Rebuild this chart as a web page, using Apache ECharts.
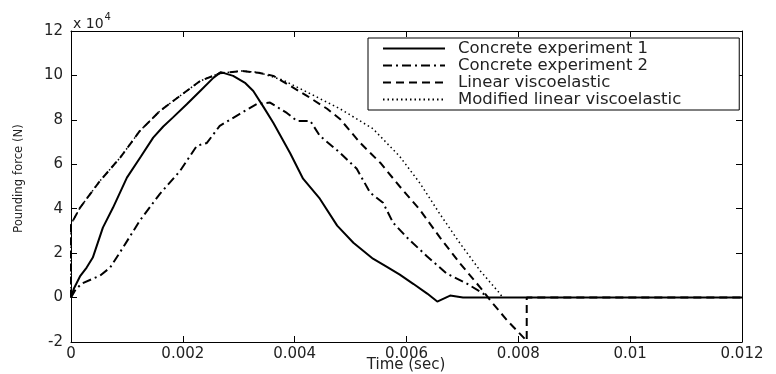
<!DOCTYPE html>
<html>
<head>
<meta charset="utf-8">
<script src="https://cdn.jsdelivr.net/npm/echarts@6/dist/echarts.min.js"></script>
<style>
  html, body { margin: 0; padding: 0; background: #fff; }
  #chart { width: 776px; height: 374px; }
</style>
</head>
<body>
<div id="chart"></div>
<script>
// [time (s), force (N)]
const concrete1 = [
  [0, 0], [0.00005, 4000], [0.00016, 9500], [0.00028, 13500], [0.00039, 18000], [0.00057, 31500],
  [0.00075, 40400], [0.001, 54000], [0.00125, 63500], [0.00147, 72000], [0.00165, 77000],
  [0.00182, 81000], [0.00207, 87000], [0.00231, 93000], [0.00255, 99000], [0.00268, 101500],
  [0.0029, 99800], [0.00312, 96500], [0.00326, 93000], [0.00345, 85500], [0.00362, 78600],
  [0.00392, 65000], [0.00415, 53500], [0.00445, 44500], [0.00476, 32400], [0.00505, 24700],
  [0.0054, 17500], [0.00565, 13800], [0.00588, 10300], [0.00612, 6200], [0.00637, 1800],
  [0.00655, -1800], [0.00678, 900], [0.00701, 0], [0.012, 0]
];
const concrete2 = [
  [0, 0], [0.00008, 3500], [0.00019, 6300], [0.00052, 9900], [0.0007, 13500], [0.00093, 22500],
  [0.00123, 34600], [0.00159, 46700], [0.00195, 57000], [0.00225, 68300], [0.00243, 69600],
  [0.00266, 77300], [0.00302, 82700], [0.00333, 87200], [0.00356, 87800], [0.00386, 83100],
  [0.00404, 79500], [0.00428, 79500], [0.00445, 72800], [0.00481, 65200], [0.00511, 58000],
  [0.00535, 47200], [0.00558, 42700], [0.00576, 33700], [0.00601, 27000], [0.00637, 18500],
  [0.00672, 10800], [0.00708, 6300], [0.00737, 1800], [0.00745, 0]
];
const linearVisco = [
  [0, 0], [0, 33000], [0.00016, 40400], [0.00052, 52600], [0.00088, 63000],
  [0.00123, 75000], [0.00159, 84000], [0.00195, 90800], [0.00231, 97500], [0.00266, 101000],
  [0.00305, 102000], [0.00335, 101200], [0.00362, 99800], [0.00392, 95300], [0.00422, 90800],
  [0.00458, 85000], [0.00481, 80400], [0.00517, 69700], [0.00553, 60700], [0.00588, 50000],
  [0.00624, 39500], [0.0066, 27000], [0.00696, 15300], [0.00732, 4500], [0.0075, -1300],
  [0.0078, -10300], [0.00815, -19500], [0.00815, 0], [0.012, 0]
];
const modifiedVisco = [
  [0, 0], [0, 33000], [0.00016, 40400], [0.00052, 52600], [0.00088, 63000],
  [0.00123, 75000], [0.00159, 84000], [0.00195, 90800], [0.00231, 97500], [0.00266, 101000],
  [0.00305, 102000], [0.00335, 101400], [0.0038, 97800], [0.00422, 92500], [0.00481, 85000],
  [0.0054, 76000], [0.00588, 63500], [0.00624, 51500], [0.0066, 37500], [0.00696, 24300],
  [0.00732, 12000], [0.00767, 1800], [0.00772, 0]
];
const seriesNames = [
  "Concrete experiment 1",
  "Concrete experiment 2",
  "Linear viscoelastic",
  "Modified linear viscoelastic"
];

const chart = echarts.init(document.getElementById("chart"));
const font = "DejaVu Sans";
const tickFmt = v => (v === 0 ? "0" : String(parseFloat(v.toFixed(3))));

const axisCommon = {
  axisLine: { show: true, onZero: false, lineStyle: { color: "#000", width: 1 } },
  axisTick: { show: true, inside: true, length: 6, lineStyle: { color: "#000" } },
  splitLine: { show: false }
};

function lineSeries(name, data, type, width) {
  return {
    name: name,
    type: "line",
    data: data,
    showSymbol: false,
    symbol: "none",
    lineStyle: { color: "#000", width: width, type: type },
    itemStyle: { color: "#000" }
  };
}

chart.setOption({
  animation: false,
  backgroundColor: "#fff",
  textStyle: { fontFamily: font, color: "#222" },
  grid: { left: 71, right: 34, top: 31, bottom: 32, containLabel: false, outerBoundsMode: "none" },
  legend: {
    orient: "vertical",
    left: 368,
    top: 38,
    data: seriesNames,
    itemWidth: 62,
    itemHeight: 10,
    itemGap: 0,
    padding: [2, 58, 2, 14],
    borderColor: "#000",
    borderWidth: 1,
    backgroundColor: "#fff",
    itemStyle: { opacity: 0 },
    textStyle: { fontFamily: font, fontSize: 16.5, lineHeight: 15, color: "#222", padding: [0, 0, 0, 8] }
  },
  xAxis: [
    Object.assign({
      type: "value", min: 0, max: 0.012, interval: 0.002, position: "bottom",
      axisLabel: { formatter: tickFmt, fontFamily: font, fontSize: 15, color: "#222", margin: 5 }
    }, axisCommon),
    Object.assign({
      type: "value", min: 0, max: 0.012, interval: 0.002, position: "top",
      axisLabel: { show: false }
    }, axisCommon)
  ],
  yAxis: [
    Object.assign({
      type: "value", min: -20000, max: 120000, interval: 20000, position: "left",
      name: "Pounding force (N)", nameLocation: "middle", nameGap: 46,
      nameTextStyle: { fontFamily: "Liberation Sans Narrow, DejaVu Sans Condensed, Liberation Sans", fontSize: 13, color: "#222", padding: [0, 0, 0, 16] },
      axisLabel: { formatter: v => String(v / 10000), fontFamily: font, fontSize: 15, color: "#222", margin: 8 }
    }, axisCommon),
    Object.assign({
      type: "value", min: -20000, max: 120000, interval: 20000, position: "right",
      axisLabel: { show: false }
    }, axisCommon)
  ],
  graphic: [{
    type: "text",
    left: 73,
    top: 12,
    style: {
      text: "{a|x 10}{s|4}",
      rich: {
        a: { fontFamily: font, fontSize: 14, fill: "#222", padding: [6, 0, 0, 0] },
        s: { fontFamily: font, fontSize: 10, fill: "#222", padding: [0, 0, 8, 1] }
      }
    }
  }, {
    type: "text",
    x: 406,
    y: 365,
    style: {
      text: "Time (sec)",
      fontFamily: font,
      fontSize: 15,
      fill: "#222",
      align: "center",
      verticalAlign: "middle"
    }
  }],
  series: [
    lineSeries(seriesNames[0], concrete1, "solid", 2),
    lineSeries(seriesNames[1], concrete2, [9, 4, 2, 4], 2),
    lineSeries(seriesNames[2], linearVisco, [8, 5], 2),
    lineSeries(seriesNames[3], modifiedVisco, [1.5, 3], 1.5)
  ]
});
</script>
</body>
</html>
